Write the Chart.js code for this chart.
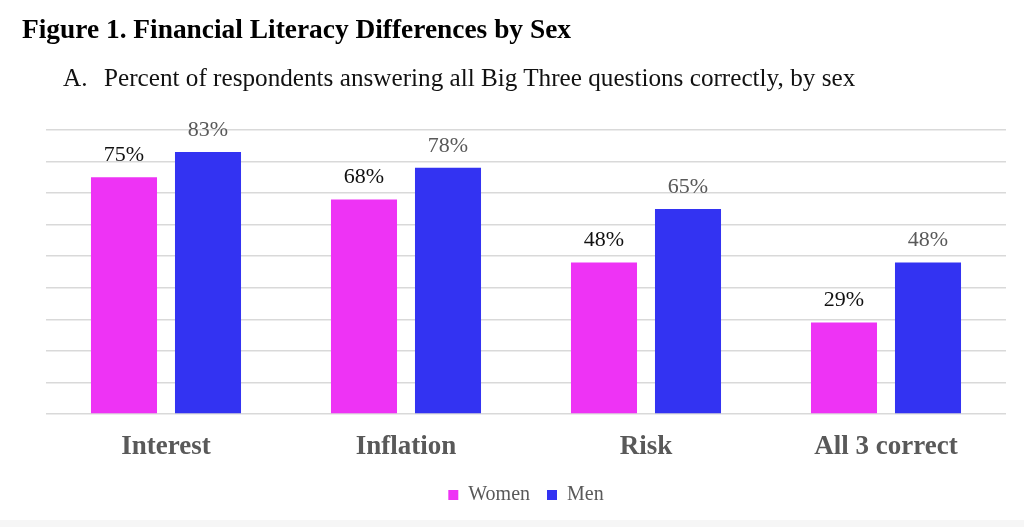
<!DOCTYPE html>
<html>
<head>
<meta charset="utf-8">
<script src="https://cdn.jsdelivr.net/npm/chart.js@4.4.1/dist/chart.umd.min.js"></script>
<style>
  html, body { margin: 0; padding: 0; background: #fff; }
  #wrap { position: relative; width: 1024px; height: 527px; overflow: hidden; }
  .txt { position: absolute; line-height: 1; white-space: nowrap; font-family: "Liberation Serif", "Times New Roman", serif; }
  #title { left: 22px; top: 16px; font-size: 27.4px; font-weight: bold; color: #000; }
  #subA { left: 63px; top: 65px; font-size: 25.2px; color: #111; }
  #subtitle { left: 104px; top: 65px; font-size: 25.2px; color: #111; }
  #foot { position: absolute; left: 0; bottom: 0; width: 1024px; height: 7px; background: #f6f6f6; }
  canvas { position: absolute; left: 0; top: 0; }
</style>
</head>
<body>
<div id="wrap">
  <canvas id="myChart" width="1024" height="527"></canvas>
  <div class="txt" id="title">Figure 1. Financial Literacy Differences by Sex</div>
  <div class="txt" id="subA">A.</div>
  <div class="txt" id="subtitle">Percent of respondents answering all Big Three questions correctly, by sex</div>
  <div id="foot"></div>
</div>
<script>
const categories = ['Interest', 'Inflation', 'Risk', 'All 3 correct'];
const women = [75, 68, 48, 29];
const men = [83, 78, 65, 48];

// labels above each bar, women in black, men in grey
const barLabels = {
  id: 'barLabels',
  afterDatasetsDraw(chart) {
    const ctx = chart.ctx;
    ctx.save();
    ctx.font = '22px "Liberation Serif", "Times New Roman", serif';
    ctx.textAlign = 'center';
    ctx.textBaseline = 'middle';
    chart.data.datasets.forEach((ds, i) => {
      const meta = chart.getDatasetMeta(i);
      ctx.fillStyle = i === 0 ? '#111' : '#595959';
      meta.data.forEach((bar, j) => {
        ctx.fillText(ds.data[j] + '%', bar.x, bar.y - 22);
      });
    });
    ctx.restore();
  }
};

const ctx = document.getElementById('myChart');
const myChart = new Chart(ctx, {
  type: 'bar',
  data: {
    labels: categories,
    datasets: [
      { label: 'Women', data: women, backgroundColor: '#ee33f5' },
      { label: 'Men', data: men, backgroundColor: '#3333f2' }
    ]
  },
  options: {
    responsive: false,
    animation: false,
    devicePixelRatio: 1,
    categoryPercentage: 0.7,
    barPercentage: 0.786,
    layout: { padding: { left: 46, right: 18, top: 130, bottom: 12 } },
    scales: {
      x: {
        grid: { display: false, drawTicks: false },
        border: { display: false },
        afterFit(scale) { scale.height = 54; },
        ticks: {
          padding: 17,
          color: '#595959',
          font: { family: '"Liberation Serif", "Times New Roman", serif', size: 27, weight: 'bold' }
        }
      },
      y: {
        min: 0,
        max: 90,
        ticks: { display: false, stepSize: 10 },
        grid: { color: '#d9d9d9', lineWidth: 1.5, drawTicks: false },
        border: { display: false }
      }
    },
    plugins: {
      legend: {
        position: 'bottom',
        labels: {
          boxWidth: 10,
          boxHeight: 10,
          padding: 17,
          color: '#595959',
          font: { family: '"Liberation Serif", "Times New Roman", serif', size: 20 }
        }
      },
      tooltip: { enabled: false }
    }
  },
  plugins: [barLabels]
});
</script>
</body>
</html>
